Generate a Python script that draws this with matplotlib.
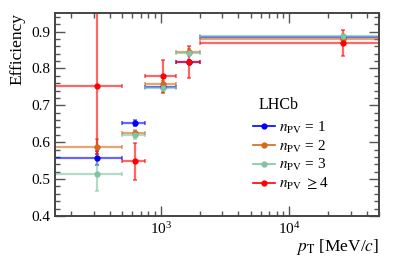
import matplotlib
matplotlib.use('Agg')
import matplotlib.pyplot as plt
from matplotlib.lines import Line2D
import numpy as np

# Times-like look of the LHCb style
plt.rcParams['font.family'] = ['Liberation Serif', 'DejaVu Serif']
plt.rcParams['mathtext.fontset'] = 'stix'

# pT bins (MeV/c): centres and edges
pt_centre = np.array([320, 630, 1030, 1650, 26000])
pt_lo = np.array([100, 500, 750, 1300, 2000])
pt_hi = np.array([500, 750, 1300, 2000, 100000])

# efficiency per n_PV class
labels = [r'$n_{\mathrm{PV}}$ = 1', r'$n_{\mathrm{PV}}$ = 2',
          r'$n_{\mathrm{PV}}$ = 3', r'$n_{\mathrm{PV}}$ $\geq$4']
colors = ['#0000ff', '#d2691e', '#7fc4a4', '#ff0000']
eff = [
    [0.557, 0.653, 0.750, 0.817, 0.884],
    [0.588, 0.626, 0.758, 0.845, 0.879],
    [0.514, 0.619, 0.746, 0.843, 0.887],
    [0.753, 0.548, 0.779, 0.818, 0.868],
]
err_dn = [
    [0.018, 0.008, 0.006, 0.006, 0.004],
    [0.020, 0.008, 0.008, 0.007, 0.004],
    [0.047, 0.010, 0.010, 0.008, 0.005],
    [0.185, 0.050, 0.045, 0.043, 0.033],
]
err_up = [
    [0.018, 0.008, 0.006, 0.006, 0.004],
    [0.020, 0.008, 0.008, 0.007, 0.004],
    [0.047, 0.010, 0.010, 0.008, 0.005],
    [0.250, 0.050, 0.045, 0.043, 0.035],
]

fig = plt.figure(figsize=(3.99, 2.57), dpi=100)
ax = fig.add_axes([0.138, 0.160, 0.812, 0.789])

xerr = [pt_centre - pt_lo, pt_hi - pt_centre]
for i in range(4):
    y = np.array(eff[i])
    ax.errorbar(pt_centre, y, xerr=xerr, yerr=[err_dn[i], err_up[i]],
                fmt='none', ecolor=colors[i], elinewidth=1.6, alpha=0.6,
                capsize=1.2, capthick=1.2)
    ax.plot(pt_centre, y, 'o', color=colors[i], ms=3.5, zorder=3)

ax.set_xscale('log')
ax.set_xlim(150, 5e4)
ax.set_ylim(0.4, 0.95)
ax.set_yticks([0.4, 0.5, 0.6, 0.7, 0.8, 0.9])
ax.set_yticks(np.arange(0.4, 0.951, 0.02), minor=True)

ax.tick_params(which='both', direction='in', top=True, right=True,
               labelsize=11, width=1.0, color='#555555')
ax.tick_params(which='major', length=7)
ax.tick_params(which='minor', length=3.5)
for s in ax.spines.values():
    s.set_linewidth(1.4)
    s.set_color('#444444')

ax.set_ylabel('Efficiency', fontsize=12.5, loc='top')
ax.set_xlabel(r'$p_{\mathrm{T}}$ [MeV/$c$]', fontsize=12.5, loc='right',
              labelpad=0)

ax.text(0.627, 0.547, 'LHCb', transform=ax.transAxes, fontsize=11.5,
        va='center', ha='left')

handles = [Line2D([], [], color=c, marker='o', ms=3.5, lw=1.2) for c in colors]
ax.legend(handles, labels, loc='upper left', bbox_to_anchor=(0.612, 0.475),
          frameon=False, fontsize=11, handlelength=1.4, handletextpad=0.3,
          labelspacing=0.18, borderaxespad=0, borderpad=0)

fig.savefig('out.png', dpi=100)
